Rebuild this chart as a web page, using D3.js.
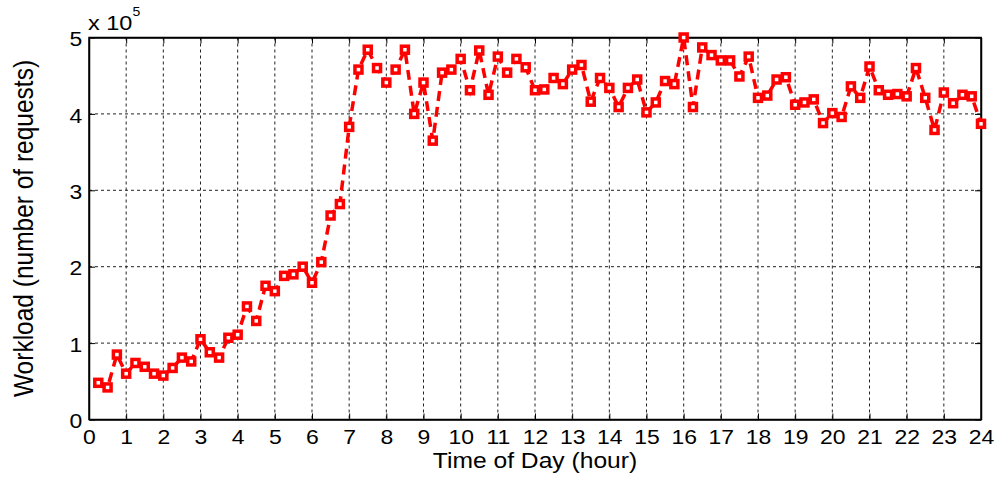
<!DOCTYPE html>
<html>
<head>
<meta charset="utf-8">
<script src="https://cdn.jsdelivr.net/npm/d3@7"></script>
<style>
  body { margin: 0; background: #fff; }
  text { font-family: "Liberation Sans", Arial, sans-serif; fill: #000; }
</style>
</head>
<body>
<svg width="1003" height="479"></svg>
<script>
// time of day (hours), one sample every 15 minutes
var hours = d3.range(1, 97).map(i => i / 4);
// workload in units of 1e5 requests
var workload = [
  0.48, 0.42, 0.85, 0.60, 0.74, 0.69, 0.60, 0.575, 0.675, 0.81, 0.76, 1.05,
  0.88, 0.81, 1.07, 1.11, 1.48, 1.29, 1.75, 1.68, 1.88, 1.90, 2.00, 1.79,
  2.06, 2.67, 2.82, 3.83, 4.58, 4.84, 4.60, 4.41, 4.58, 4.84, 4.00, 4.41,
  3.65, 4.54, 4.58, 4.72, 4.31, 4.83, 4.25, 4.75, 4.54, 4.72, 4.61, 4.31,
  4.32, 4.47, 4.39, 4.58, 4.64, 4.16, 4.47, 4.34, 4.09, 4.34, 4.45, 4.02,
  4.15, 4.43, 4.39, 5.00, 4.09, 4.87, 4.77, 4.70, 4.70, 4.49, 4.75, 4.21,
  4.24, 4.45, 4.48, 4.12, 4.15, 4.19, 3.88, 4.01, 3.96, 4.36, 4.21, 4.62,
  4.31, 4.25, 4.26, 4.23, 4.60, 4.21, 3.79, 4.28, 4.14, 4.25, 4.23, 3.87
];
var xTicks = d3.range(0, 25);
var yTicks = [0, 1, 2, 3, 4, 5];

// the original figure is a bit wider than tall, so text is stretched sideways
var stretch = "scale(1.12,1)";

var svg = d3.select("svg"),
    margin = {top: 37.5, right: 22, bottom: 59.5, left: 89},
    width = 1003 - margin.left - margin.right,
    height = 479 - margin.top - margin.bottom,
    g = svg.append("g").attr("transform", "translate(" + margin.left + "," + margin.top + ")");

var x = d3.scaleLinear().domain([0, 24]).range([0, width]);
var y = d3.scaleLinear().domain([0, 5]).range([height, 0]);

// dotted grid
g.append("g")
    .selectAll("line")
    .data(xTicks.slice(1, -1))
    .enter().append("line")
    .attr("x1", d => x(d)).attr("x2", d => x(d))
    .attr("y1", 0).attr("y2", height)
    .attr("stroke", "#222").attr("stroke-width", 1).attr("stroke-dasharray", "3,3");
g.append("g")
    .selectAll("line")
    .data(yTicks.slice(1, -1))
    .enter().append("line")
    .attr("x1", 0).attr("x2", width)
    .attr("y1", d => y(d)).attr("y2", d => y(d))
    .attr("stroke", "#222").attr("stroke-width", 1).attr("stroke-dasharray", "3,3");

// axes with inward ticks
var xAxis = g.append("g")
    .attr("transform", "translate(0," + height + ")")
    .call(d3.axisBottom(x).tickValues(xTicks).tickSizeInner(-6).tickSizeOuter(0).tickPadding(10));
var yAxis = g.append("g")
    .call(d3.axisLeft(y).tickValues(yTicks).tickFormat(d3.format("d")).tickSizeInner(-6).tickSizeOuter(0).tickPadding(6));
g.append("g")
    .call(d3.axisTop(x).tickValues(xTicks).tickSizeInner(-6).tickSizeOuter(0).tickFormat(""));
g.append("g")
    .attr("transform", "translate(" + width + ",0)")
    .call(d3.axisRight(y).tickValues(yTicks).tickSizeInner(-6).tickSizeOuter(0).tickFormat(""));

g.selectAll(".domain").attr("stroke", "#000").attr("stroke-width", 1.5);
g.selectAll(".tick line").attr("stroke", "#000");
xAxis.selectAll("text").attr("font-size", 20.5).attr("dy", "0.72em").attr("transform", stretch);
yAxis.selectAll("text").attr("font-size", 20.5).attr("dy", "0.4em").attr("transform", stretch);

// box
g.append("rect")
    .attr("width", width).attr("height", height)
    .attr("fill", "none").attr("stroke", "#000").attr("stroke-width", 1.5);

var data = hours.map((h, i) => ({h: h, v: workload[i]}));

var line = d3.line().x(d => x(d.h)).y(d => y(d.v));

g.append("path")
    .datum(data)
    .attr("d", line)
    .attr("fill", "none")
    .attr("stroke", "#ff0000")
    .attr("stroke-width", 3.5)
    .attr("stroke-dasharray", "10,6");

g.selectAll(".mark")
    .data(data)
    .enter().append("rect")
    .attr("class", "mark")
    .attr("x", d => x(d.h) - 3.5)
    .attr("y", d => y(d.v) - 3.5)
    .attr("width", 7).attr("height", 7)
    .attr("fill", "#fff")
    .attr("stroke", "#ff0000")
    .attr("stroke-width", 3.5);

// exponent label
var ex = svg.append("text")
    .attr("transform", "translate(" + (margin.left - 1) + ",30) " + stretch)
    .attr("font-size", 21);
ex.append("tspan").text("x 10");
ex.append("tspan").attr("font-size", 12.5).attr("dy", -14).text("5");

svg.append("text")
    .attr("transform", "translate(" + (margin.left + width / 2) + ",468) " + stretch)
    .attr("text-anchor", "middle")
    .attr("font-size", 22)
    .text("Time of Day (hour)");

svg.append("text")
    .attr("transform", "translate(33," + (margin.top + height / 2) + ") " + stretch + " rotate(-90)")
    .attr("text-anchor", "middle")
    .attr("font-size", 24.5)
    .text("Workload (number of requests)");
</script>
</body>
</html>
